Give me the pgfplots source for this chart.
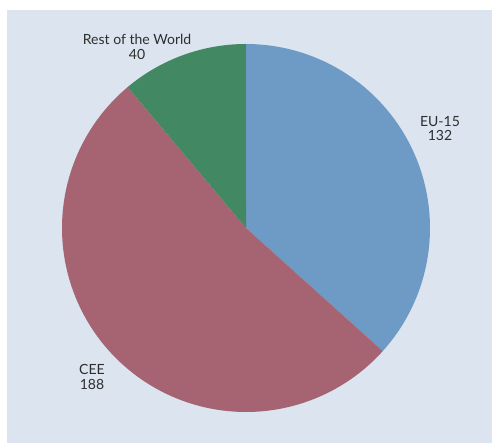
\documentclass[border=0pt]{standalone}
\usepackage{pgfplots}
\pgfplotsset{compat=1.18}
\usepackage{fontspec}
\setmainfont{Lato}
\definecolor{bgc}{HTML}{DBE4EF}
\definecolor{cEU}{HTML}{6E9BC5}
\definecolor{cCEE}{HTML}{A66473}
\definecolor{cRW}{HTML}{428862}
\definecolor{txt}{HTML}{2E2E2E}
% values (sum = 360, so one unit = one degree)
\def\vEU{132}
\def\vCEE{188}
\def\vRW{40}
\tikzset{lab/.style={font=\fontsize{14}{14.5}\selectfont, text=txt, align=center, inner sep=0pt}}
\begin{document}
\begin{tikzpicture}[x=1pt,y=1pt]
\fill[white] (0,0) rectangle (492,443);
\fill[bgc] (7,0) rectangle (492,433);
\begin{axis}[
  at={(246pt,215pt)}, anchor=center,
  scale only axis, width=368pt, height=368pt,
  xmin=-1, xmax=1, ymin=-1, ymax=1,
  hide axis, clip=false,
]
\pgfmathsetmacro{\tot}{\vEU+\vCEE+\vRW}
\pgfmathsetmacro{\aA}{90}
\pgfmathsetmacro{\aB}{\aA-\vEU/\tot*360}
\pgfmathsetmacro{\aC}{\aB-\vCEE/\tot*360}
\pgfmathsetmacro{\aD}{\aC-\vRW/\tot*360}
\addplot[fill=cEU, draw=none, domain=\aA:\aB, samples=120, variable=\t] ({cos(t)},{sin(t)}) -- (axis cs:0,0) -- cycle;
\addplot[fill=cCEE, draw=none, domain=\aB:\aC, samples=160, variable=\t] ({cos(t)},{sin(t)}) -- (axis cs:0,0) -- cycle;
\addplot[fill=cRW, draw=none, domain=\aC:\aD, samples=60, variable=\t] ({cos(t)},{sin(t)}) -- (axis cs:0,0) -- cycle;
\node[lab] at (axis cs:-0.592,0.985) {Rest of the World\\40};
\node[lab] at (axis cs:1.054,0.540) {EU-15\\132};
\node[lab] at (axis cs:-0.837,-0.810) {CEE\\188};
\end{axis}
\end{tikzpicture}
\end{document}
